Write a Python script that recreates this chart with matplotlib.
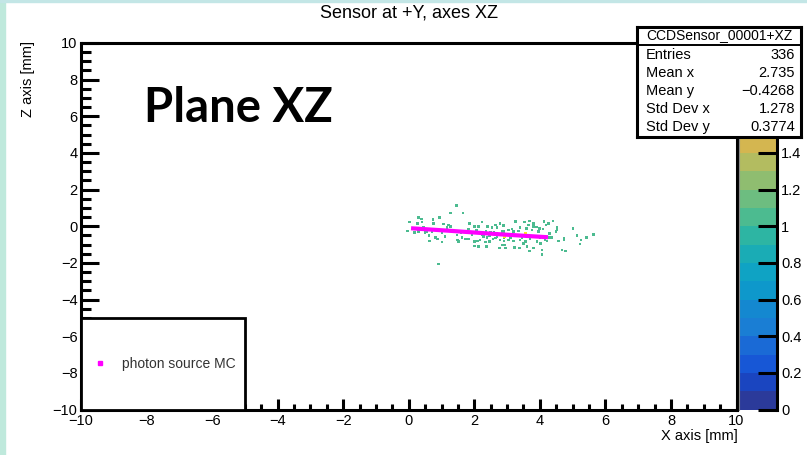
import numpy as np
import matplotlib
matplotlib.use("Agg")
import matplotlib.pyplot as plt
from matplotlib.colors import ListedColormap, BoundaryNorm
from matplotlib.cm import ScalarMappable
from matplotlib.patches import Rectangle
from matplotlib.lines import Line2D
from matplotlib.ticker import MultipleLocator

plt.rcParams['font.family'] = ['Liberation Sans', 'DejaVu Sans']

# ---- hit positions on the sensor plane (mm), one bin entry each ----
hit_x = [1.45, 1.27, 1.65, 0.30, 0.39, 0.03, 0.27, 0.40, 0.74, 0.76, 0.94, 1.06, 1.22,
         1.86, 2.23, 2.13, 2.00, 2.41, 2.64, 2.79, -0.04, 0.17, 0.30, 0.50, 0.71, 0.86,
         1.01, 1.37, 1.47, 1.78, 1.93, 2.28, 2.47, 2.69, 0.64, 0.88, 1.01, 1.49, 1.73,
         1.83, 2.00, 2.10, 2.18, 2.34, 2.47, 2.57, 2.79, 2.90, 2.00, 2.13, 2.37, 2.77,
         0.91, 1.52, 2.64, 2.92, 1.27, 2.06, 2.54, 2.69, 2.84, 1.83, 1.17, 0.96, 0.56,
         0.61, 0.81, 1.62, 2.23, 2.39,
         2.79, 3.25, 3.53, 3.69, 3.66, 3.81, 4.12, 4.27, 4.40, 4.19, 4.52, 4.50, 5.01,
         5.14, 5.26, 5.22, 5.42, 5.64, 4.78, 4.37, 4.57, 4.73, 4.02, 3.81, 3.69, 4.07,
         4.07, 2.90, 3.05, 3.20, 3.35, 2.90, 3.05, 3.20, 3.40, 3.56, 2.85, 2.95, 3.22,
         3.38, 3.61, 3.91, 4.22, 4.30, 3.96, 3.99, 3.40, 3.76, 4.09,
         2.89, 3.81, 4.12, 4.52, 4.52, 4.73, 4.68, 5.13, 5.44,
         2.60, 2.70, 3.00, 3.10, 3.30, 3.45, 3.70, 3.85, 4.00, 4.15, 3.50, 2.50, 3.15,
         3.60, 3.90, 4.30, 2.35, 1.60, 1.10, 0.45, 0.20,
         2.92, 3.56]
hit_z = [1.13, 0.71, 0.71, 0.49, 0.40, 0.22, 0.16, 0.22, 0.38, 0.16, 0.49, 0.11, 0.07,
         0.16, 0.22, -0.02, -0.02, -0.02, 0.07, 0.16, -0.25, -0.33, -0.29, -0.35, -0.29,
         -0.25, -0.38, -0.29, -0.47, -0.38, -0.47, -0.56, -0.51, -0.38, -0.80, -0.69,
         -0.87, -0.75, -0.69, -0.69, -0.84, -0.80, -0.75, -0.87, -0.84, -0.69, -0.75,
         -0.80, -1.07, -1.11, -1.11, -1.20, -2.07, -0.84, -0.65, -1.02, -0.02, -0.20,
         -0.07, -0.07, -0.29, -0.15, -0.07, -0.20, -0.29, -0.51, -0.62, -0.62, -0.44,
         -0.62,
         0.16, 0.25, 0.22, 0.29, 0.07, -0.02, 0.25, 0.16, 0.29, 0.07, -0.11, -0.29, -0.11,
         -0.51, -0.75, -0.98, -0.62, -0.44, -1.35, -0.62, -0.80, -0.65, -0.93, -1.20,
         -1.35, -1.29, -1.53, -0.29, -0.20, -0.29, -0.25, -0.65, -0.75, -0.80, -0.75,
         -0.84, -1.02, -1.20, -1.15, -1.20, -1.11, -0.84, -0.80, -0.62, -0.29, -0.11,
         -0.07, -0.20, -0.15,
         0.05, 0.14, 0.29, -0.04, -0.18, -0.73, -1.31, -0.49, -0.58,
         -0.30, -0.55, -0.45, -0.62, -0.50, -0.62, -0.70, -0.55, -0.65, -0.72, -0.95,
         -0.35, -0.15, -0.12, -0.05, -0.40, -0.25, -0.35, -0.55, -0.05, -0.12,
         -0.60, -0.36]
hit_counts = [1] * (len(hit_x) - 2) + [2, 2]

# ---- simulated photon source track ----
src_x = [0.07, 1.27, 2.79, 4.25]
src_z = [-0.11, -0.25, -0.44, -0.60]

# ---- statistics box entries ----
stat_title = "CCDSensor_00001+XZ"
stat_names = ["Entries", "Mean x", "Mean y", "Std Dev x", "Std Dev y"]
stat_values = ["336", "2.735", "\u22120.4268", "1.278", "0.3774"]

# ---- palette (20 contour levels, 0 to 2) ----
palette = ["#2b3a9a", "#1a45c0", "#1757d6", "#1a6ad6", "#1a7ed4", "#1488d0",
           "#0e98cb", "#0fa3c4", "#1aacb5", "#2db5a3", "#4cbb90", "#6dbd80",
           "#8fbd70", "#b3bc60", "#d4b650", "#e6b846", "#f2c23c", "#f6d230",
           "#f8e222", "#f9f10e"]
levels = np.linspace(0, 2, 21)
cmap = ListedColormap(palette)
norm = BoundaryNorm(levels, cmap.N)

W, H = 807, 455
fig = plt.figure(figsize=(W / 100, H / 100), dpi=100)
fig.patch.set_facecolor("white")

def fbox(x0, y0, x1, y1):
    """pixel box (top-left origin) -> figure fraction rect"""
    return [x0 / W, 1 - y1 / H, (x1 - x0) / W, (y1 - y0) / H]

# page decoration
fig.patches.append(Rectangle((0, 0), 5 / W, 1, transform=fig.transFigure,
                             color="#bfe9dc", zorder=0))
fig.patches.append(Rectangle((0, 1 - 1.5 / H), 1, 1.5 / H, transform=fig.transFigure,
                             color="#c3e6e6", zorder=0))

# ---- main frame ----
ax = fig.add_axes(fbox(81, 43, 736.5, 409.5))
ax.set_xlim(-10, 10)
ax.set_ylim(-10, 10)
ax.scatter(hit_x, hit_z, c=hit_counts, cmap=cmap, norm=norm, marker="s",
           s=3.2, linewidths=0, zorder=2)
ax.plot(src_x, src_z, color="#ff00ff", lw=3.0, solid_capstyle="butt", zorder=3)

for sp in ax.spines.values():
    sp.set_linewidth(2.2)
ax.xaxis.set_major_locator(MultipleLocator(2))
ax.xaxis.set_minor_locator(MultipleLocator(0.5))
ax.yaxis.set_major_locator(MultipleLocator(2))
ax.yaxis.set_minor_locator(MultipleLocator(0.5))
ax.tick_params(axis="both", which="both", direction="in", top=False, right=False,
               width=2.2, labelsize=10.5, colors="black")
ax.tick_params(axis="y", which="major", length=13, pad=2.5)
ax.tick_params(axis="y", which="minor", length=7)
ax.tick_params(axis="x", which="major", length=8, pad=3)
ax.tick_params(axis="x", which="minor", length=4.3)

# legend frame in the lower-left corner
ax.add_patch(Rectangle((-10, -10), 5, 5, facecolor="white", edgecolor="black",
                       lw=2.0, zorder=4, clip_on=False))
handle = Line2D([], [], marker="s", color="#ff00ff", ls="none", markersize=2.6)
leg = ax.legend([handle], ["photon source MC"], loc="center left",
                bbox_to_anchor=(0.0, 0.125), frameon=False, fontsize=10,
                handlelength=1.0, borderpad=0.87, handletextpad=1.05,
                borderaxespad=0)
leg.set_zorder(5)
for t in leg.get_texts():
    t.set_color("#333333")

ax.text(-8.08, 5.67, "Plane XZ", fontsize=34, fontweight="bold", family="Lato",
        va="baseline", ha="left", zorder=6)

fig.text(409 / W, 1 - 13 / H, "Sensor at +Y, axes XZ", fontsize=13,
         ha="center", va="center")
fig.text(28 / W, 1 - 41 / H, "Z axis [mm]", rotation=90, fontsize=10.5,
         ha="center", va="top")
fig.text(738 / W, 1 - 436 / H, "X axis [mm]", fontsize=10.5,
         ha="right", va="center")

# ---- colour scale ----
cax = fig.add_axes(fbox(738.5, 43, 777, 409.5))
cb = fig.colorbar(ScalarMappable(norm=norm, cmap=cmap), cax=cax)
cb.outline.set_visible(False)
cb.set_ticks([0, 0.2, 0.4, 0.6, 0.8, 1.0, 1.2, 1.4])
cb.set_ticklabels(["0", "0.2", "0.4", "0.6", "0.8", "1", "1.2", "1.4"])
cax.minorticks_off()
cax.tick_params(axis="y", which="major", direction="in", length=13.7, width=2.2,
                labelsize=10.5, pad=3)
cax.plot([1, 1], [0, 1], transform=cax.transAxes, color="black", lw=2.2,
         clip_on=False, zorder=5)
cax.plot([0, 0], [0, 1], transform=cax.transAxes, color="#888888", lw=0.8,
         clip_on=False, zorder=5)

# ---- statistics box ----
sax = fig.add_axes(fbox(637, 27, 801, 137))
sax.set_xlim(637, 801)
sax.set_ylim(137, 27)
sax.set_xticks([])
sax.set_yticks([])
sax.set_facecolor("white")
for sp in sax.spines.values():
    sp.set_linewidth(2.2)
sax.plot([637, 801], [44.5, 44.5], color="black", lw=1.4, zorder=1)
sax.text(719, 35, stat_title, fontsize=10, ha="center", va="center", zorder=3)
rows_y = [55, 73.3, 91, 109, 126.7]
for yy, name, val in zip(rows_y, stat_names, stat_values):
    sax.text(646, yy, name, fontsize=10.5, ha="left", va="center")
    sax.text(795, yy, val, fontsize=10.5, ha="right", va="center")

fig.savefig("out.png", dpi=100)
